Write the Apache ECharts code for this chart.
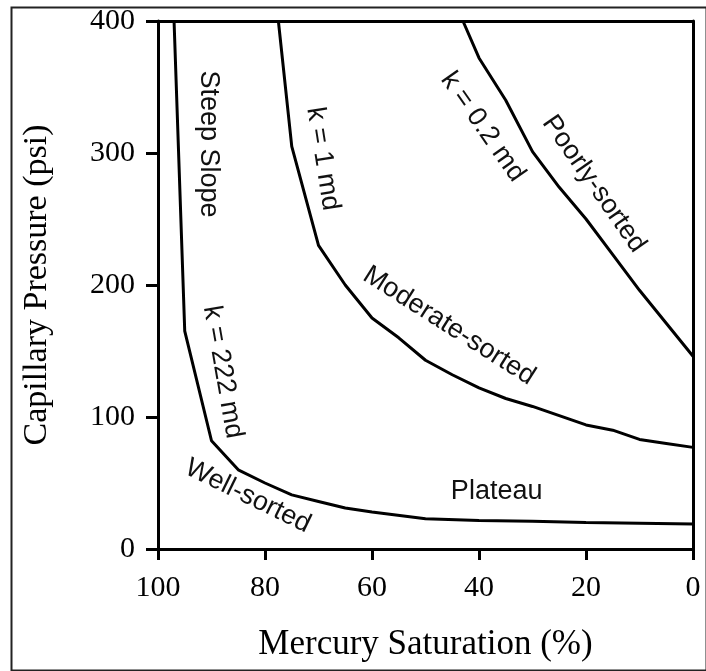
<!DOCTYPE html>
<html>
<head>
<meta charset="utf-8">
<script src="https://cdn.jsdelivr.net/npm/echarts@6/dist/echarts.min.js"></script>
<style>
  html, body { margin: 0; padding: 0; background: #fff; }
  #chart { width: 706px; height: 671px; }
</style>
</head>
<body>
<div id="chart"></div>
<script>
// Mercury injection capillary pressure curves for three permeabilities.
// Saturation (%) and capillary pressure (psi) along each curve.
const wellSat = [97, 95, 90, 85, 80, 75, 70, 65, 60, 50, 40, 30, 20, 10, 0];
const wellPc  = [400, 165, 82, 60, 50, 41, 36, 31, 28, 23, 21.5, 21, 20, 19.5, 19];

const moderateSat = [77.5, 75, 70, 65, 60, 55, 50, 45, 40, 35, 30, 25, 20, 15, 10, 5, 0];
const moderatePc  = [400, 305, 230, 200, 175, 160, 143, 132, 122, 114, 108, 101, 94, 90, 83, 80, 77];

const poorSat = [43, 40, 35, 30, 25, 20, 15, 10, 5, 0];
const poorPc  = [400, 372, 340, 301, 274, 250, 223, 196, 171, 146];

// Axis ticks
const satTicks = [100, 80, 60, 40, 20, 0];
const pcTicks = [0, 100, 200, 300, 400];

// Curve annotations: text, anchor (saturation, pressure), text angle in degrees
const noteText  = ['Steep Slope', 'k = 222 md', 'Well-sorted', 'k = 1 md', 'Moderate-sorted', 'k = 0.2 md', 'Poorly-sorted', 'Plateau'];
const noteSat   = [90.6, 87.9, 83.2, 69.2, 45.6, 39.3, 18.5, 36.7];
const notePc    = [306.8, 134, 40, 295.5, 169, 319.7, 276.5, 43.2];
const noteAngle = [-90, -80, -26, -81, -32.5, -55, -55, 0];

const pairs = (xs, ys) => xs.map((x, i) => [x, ys[i]]);

const chart = echarts.init(document.getElementById('chart'), null, { renderer: 'canvas' });

const serif = 'Liberation Serif';
const sans = 'Liberation Sans';

const lineStyle = { color: '#000', width: 3 };
const frameAxis = {
  type: 'value',
  axisLine: { show: true, onZero: false, lineStyle: { color: '#000', width: 3 } },
  axisTick: { show: false },
  axisLabel: { show: false },
  splitLine: { show: false }
};

chart.setOption({
  animation: false,
  backgroundColor: '#fff',
  grid: { left: 158, right: 13, top: 21, bottom: 122, show: false },
  xAxis: [
    {
      type: 'value', min: 0, max: 100, interval: 20, inverse: true, position: 'bottom',
      name: 'Mercury Saturation (%)', nameLocation: 'middle', nameGap: 78,
      nameTextStyle: { fontFamily: serif, fontSize: 35, color: '#000' },
      axisLine: { show: true, onZero: false, lineStyle: { color: '#000', width: 3 } },
      axisTick: { show: true, inside: false, length: 11, lineStyle: { color: '#000', width: 3 } },
      axisLabel: {
        fontFamily: serif, fontSize: 30, color: '#000', margin: 24,
        formatter: v => satTicks.includes(v) ? String(v) : ''
      },
      splitLine: { show: false }
    },
    Object.assign({ min: 0, max: 100, inverse: true, position: 'top' }, frameAxis)
  ],
  yAxis: [
    {
      type: 'value', min: 0, max: 400, interval: 100, position: 'left',
      name: 'Capillary Pressure (psi)', nameLocation: 'middle', nameGap: 104,
      nameTextStyle: { fontFamily: serif, fontSize: 34, color: '#000' },
      axisLine: { show: true, onZero: false, lineStyle: { color: '#000', width: 3 } },
      axisTick: { show: true, inside: false, length: 12, lineStyle: { color: '#000', width: 3 } },
      axisLabel: {
        fontFamily: serif, fontSize: 30, color: '#000', margin: 23,
        formatter: v => pcTicks.includes(v) ? String(v) : ''
      },
      splitLine: { show: false }
    },
    Object.assign({ min: 0, max: 400, position: 'right' }, frameAxis)
  ],
  series: [
    { name: 'k = 222 md', type: 'line', data: pairs(wellSat, wellPc), showSymbol: false, lineStyle, z: 3 },
    { name: 'k = 1 md', type: 'line', data: pairs(moderateSat, moderatePc), showSymbol: false, lineStyle, z: 3 },
    { name: 'k = 0.2 md', type: 'line', data: pairs(poorSat, poorPc), showSymbol: false, lineStyle, z: 3 }
  ]
});

// Place the curve annotations using the chart's own coordinate conversion.
const notes = noteText.map((t, i) => {
  const p = chart.convertToPixel({ xAxisIndex: 0, yAxisIndex: 0 }, [noteSat[i], notePc[i]]);
  return {
    type: 'text',
    x: p[0], y: p[1],
    rotation: noteAngle[i] * Math.PI / 180,
    style: {
      text: t, fill: '#111', font: '27px "' + sans + '"',
      align: 'center', verticalAlign: 'middle'
    },
    z: 10
  };
});

chart.setOption({
  graphic: [
    {
      type: 'rect', left: 9, top: 5, silent: true,
      shape: { width: 695, height: 663 },
      style: { fill: 'none', stroke: '#222', lineWidth: 2 },
      z: 0
    },
    ...notes
  ]
});
</script>
</body>
</html>
